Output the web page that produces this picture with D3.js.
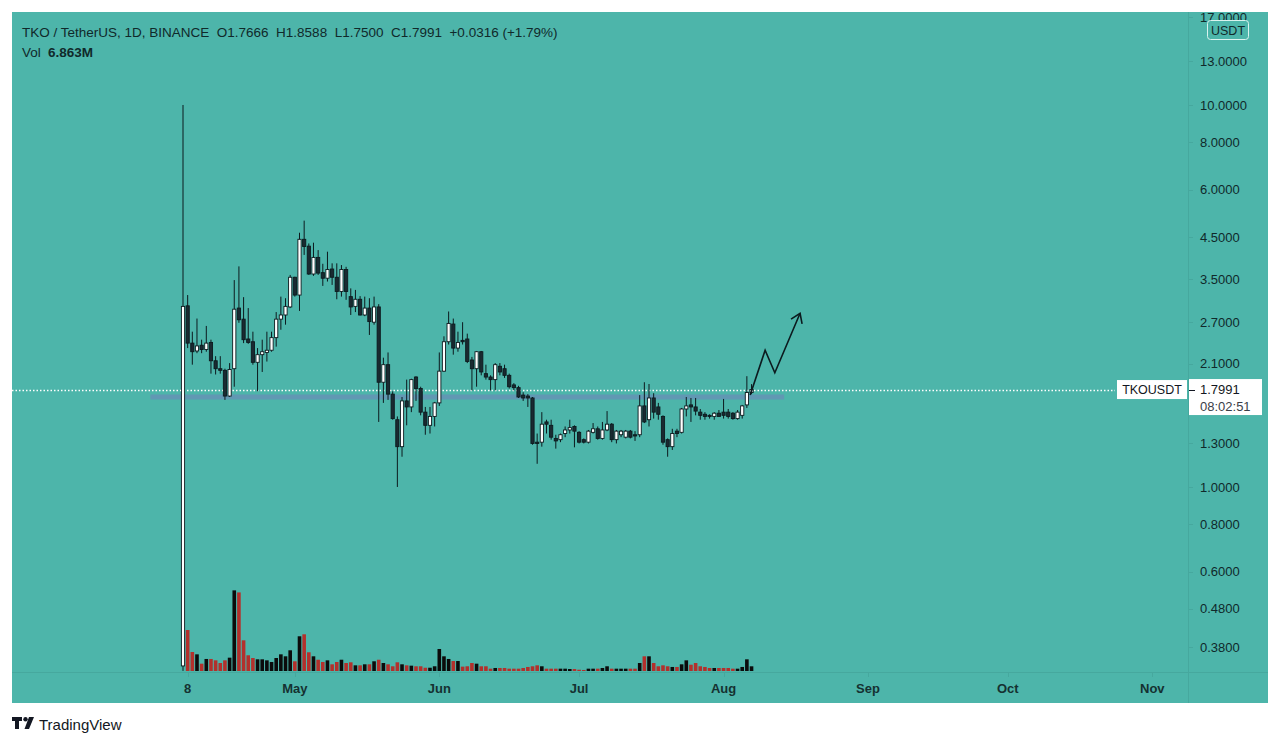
<!DOCTYPE html>
<html>
<head>
<meta charset="utf-8">
<script src="https://cdn.jsdelivr.net/npm/d3@7"></script>
<style>
  body { margin: 0; background: #fff; }
  svg { display: block; }
</style>
</head>
<body>
<script>
// daily candles TKO/USDT, first bar 2021-04-07
const startDay = "2021-04-07";
const opens = [0.34,2.98,2.38,2.27,2.35,2.29,2.39,2.14,2.04,2.02,1.73,2.04,2.94,2.75,2.44,2.40,2.12,2.22,2.25,2.28,
  2.46,2.75,2.82,2.96,3.54,3.18,4.45,4.27,3.61,3.99,3.64,3.52,3.72,3.54,3.25,3.71,3.15,2.97,3.10,2.82,
  2.94,2.70,2.96,1.88,2.09,1.75,1.50,1.275,1.68,1.62,1.94,1.81,1.57,1.45,1.53,1.66,2.01,2.40,2.67,2.31,
  2.42,2.44,2.15,2.04,2.26,1.98,1.94,1.91,2.07,2.04,1.96,1.85,1.82,1.74,1.73,1.71,1.31,1.31,1.48,1.45,
  1.34,1.33,1.38,1.41,1.44,1.39,1.33,1.31,1.39,1.42,1.34,1.41,1.46,1.33,1.37,1.35,1.40,1.37,1.37,1.63,
  1.50,1.71,1.62,1.53,1.33,1.275,1.40,1.39,1.60,1.64,1.62,1.57,1.55,1.54,1.53,1.56,1.57,1.57,1.56,1.51,
  1.54,1.64,1.7666];
const highs = [10.0,3.18,2.55,2.76,2.43,2.64,2.43,2.20,2.20,2.04,2.11,3.48,3.78,3.14,2.94,2.55,2.31,2.43,2.55,2.55,
  2.87,3.15,3.12,3.59,3.55,4.63,4.98,4.34,4.36,4.17,3.84,4.13,3.85,3.85,3.81,3.77,3.31,3.28,3.16,3.15,
  3.12,3.15,3.01,2.18,2.25,1.78,1.53,1.72,1.91,1.92,1.95,1.83,1.62,1.62,1.67,2.25,2.48,2.88,2.76,2.55,
  2.70,2.52,2.19,2.27,2.27,2.09,1.96,2.11,2.11,2.09,1.98,1.87,1.84,1.77,1.75,1.72,1.38,1.57,1.50,1.50,
  1.37,1.38,1.44,1.50,1.45,1.40,1.34,1.41,1.47,1.44,1.48,1.58,1.47,1.41,1.41,1.41,1.41,1.40,1.74,1.88,
  1.86,1.76,1.66,1.54,1.34,1.42,1.42,1.61,1.72,1.71,1.71,1.60,1.57,1.55,1.57,1.59,1.70,1.60,1.57,1.59,
  1.64,1.95,1.8588];
const lows = [0.33,2.31,2.09,2.24,2.24,2.26,1.98,1.97,1.98,1.69,1.72,1.83,2.69,2.38,2.37,2.09,1.78,2.00,2.13,2.26,
  2.33,2.58,2.66,2.94,3.15,2.89,4.05,3.59,3.57,3.59,3.36,3.45,3.38,3.10,3.15,3.09,2.82,2.87,2.81,2.80,
  2.50,2.66,1.48,1.66,1.69,1.50,1.00,1.20,1.45,1.57,1.68,1.54,1.37,1.38,1.44,1.63,2.00,2.36,2.22,2.26,
  2.36,2.11,1.79,1.83,1.96,1.91,1.79,1.79,1.96,1.93,1.81,1.79,1.71,1.68,1.62,1.29,1.15,1.275,1.38,1.33,
  1.26,1.31,1.35,1.38,1.27,1.30,1.30,1.30,1.38,1.33,1.33,1.40,1.31,1.30,1.35,1.34,1.34,1.32,1.35,1.47,
  1.44,1.51,1.50,1.29,1.20,1.25,1.35,1.38,1.53,1.48,1.54,1.50,1.50,1.51,1.50,1.53,1.51,1.51,1.50,1.50,
  1.51,1.61,1.75];
const closes = [2.97,2.38,2.26,2.34,2.29,2.38,2.14,2.04,2.02,1.73,2.03,2.92,2.74,2.43,2.39,2.12,2.22,2.26,2.28,2.46,
  2.75,2.82,2.97,3.54,3.18,4.45,4.26,3.61,3.99,3.63,3.52,3.71,3.54,3.25,3.71,3.25,2.96,3.10,2.82,2.94,
  2.71,2.96,1.88,2.09,1.75,1.51,1.275,1.68,1.62,1.91,1.81,1.57,1.45,1.53,1.66,2.01,2.40,2.68,2.31,2.39,
  2.40,2.13,2.04,2.26,2.00,1.94,1.91,2.09,2.00,1.96,1.83,1.82,1.72,1.71,1.71,1.30,1.30,1.46,1.46,1.35,
  1.32,1.37,1.41,1.43,1.40,1.31,1.31,1.40,1.42,1.34,1.41,1.46,1.33,1.40,1.40,1.40,1.35,1.36,1.63,1.48,
  1.71,1.57,1.55,1.31,1.275,1.38,1.38,1.60,1.63,1.62,1.58,1.54,1.53,1.53,1.56,1.53,1.54,1.53,1.51,1.57,
  1.63,1.7675,1.7991];
// volume in millions (first bar hidden behind the listing candle)
const volumes = [0,60,27.8,24.4,10.7,17.6,17.6,15.6,11.7,15.6,19.5,118,115,44.9,23,19,17.1,17.1,15.6,13.2,
  19,24.4,21.5,30.3,14.2,50.8,53.7,27.4,21.5,16.5,13.2,15.6,9.8,13.2,16.5,11.7,12.7,8.3,8.3,9.8,
  9.8,14.2,16.5,11.7,9.8,6.9,12.7,9.8,8.3,7.8,6.9,6.9,4.8,4.8,6.9,32.2,21.5,17.6,14.6,14.6,
  6.4,6.9,11.7,10.7,6.9,6.9,3.4,4.4,4.4,4.4,3.4,3.4,3.4,4.4,5.9,6.9,8.3,6.9,3.4,3.4,
  3.4,3.4,3.4,2.9,2.9,1.9,1.5,3.4,3.4,3.4,4.4,6.9,3.4,3.4,3.4,3.4,3.4,3.4,11.7,21.5,
  21.5,11.7,6.9,8.3,6.9,5.9,5.9,9.8,15.6,9.2,11.7,6.9,5.9,4.4,4.4,4.4,4.4,4.4,3.4,3.4,
  5.9,17.1,6.863];

const priceTicks = [17, 13, 10, 8, 6, 4.5, 3.5, 2.7, 2.1, 1.3, 1.0, 0.8, 0.6, 0.48, 0.38];
const timeTicks = ["2021-04-08","2021-05-01","2021-06-01","2021-07-01","2021-08-01","2021-09-01","2021-10-01","2021-11-01"];
const timeLabels = ["8","May","Jun","Jul","Aug","Sep","Oct","Nov"];

const supportLevel = 1.72;
const supportDates = ["2021-03-31","2021-08-14"];
const arrowDates = ["2021-08-06T17:00","2021-08-09T22:00","2021-08-12T00:00","2021-08-17T10:00"];
const arrowPrices = [1.74, 2.28, 1.99, 2.85];

const symbol = "TKO / TetherUS, 1D, BINANCE";
const countdown = "08:02:51";

const W = 1280, H = 745;
const paneL = 12, paneT = 12, paneR = 1188, paneB = 672, outerR = 1268, outerB = 703;
const FONT = "'Liberation Sans', Arial, sans-serif";
const TEXT = "#10292a";

const parse = s => new Date(s + (s.length === 10 ? "T00:00Z" : "Z"));
const start = parse(startDay);
const bars = opens.map((o, i) => ({
  date: d3.utcDay.offset(start, i), o, h: highs[i], l: lows[i], c: closes[i], v: volumes[i]
}));

const x = d3.scaleUtc().domain([start, parse("2021-11-01")]).range([183, 1152.3]);
const y = d3.scaleLog().domain([0.3, 20]).range([686.7, -10]);
const yv = d3.scaleLinear().domain([0, 120]).range([671, 589]);

const svg = d3.select("body").append("svg").attr("width", W).attr("height", H)
  .style("font-family", FONT);

svg.append("rect").attr("width", W).attr("height", H).attr("fill", "#fff");
svg.append("rect").attr("x", paneL).attr("y", paneT)
  .attr("width", outerR - paneL).attr("height", outerB - paneT).attr("fill", "#4db5aa");

const defs = svg.append("defs");
defs.append("clipPath").attr("id", "pane").append("rect")
  .attr("x", paneL).attr("y", paneT).attr("width", paneR - paneL).attr("height", paneB - paneT);
defs.append("clipPath").attr("id", "outer").append("rect")
  .attr("x", paneL).attr("y", paneT).attr("width", outerR - paneL).attr("height", outerB - paneT);
defs.append("marker").attr("id", "head").attr("markerUnits", "userSpaceOnUse")
  .attr("viewBox", "-12 -8 14 16").attr("refX", 0).attr("refY", 0)
  .attr("markerWidth", 14).attr("markerHeight", 16).attr("orient", "auto")
  .append("path").attr("d", "M-9,-6L0,0L-9,6").attr("fill", "none")
  .attr("stroke", "#0c1b1f").attr("stroke-width", 1.6);

// pane separators
svg.append("line").attr("x1", paneR + 0.5).attr("x2", paneR + 0.5).attr("y1", paneT).attr("y2", outerB)
  .attr("stroke", "#46a89e");
svg.append("line").attr("x1", paneL).attr("x2", outerR).attr("y1", paneB + 0.5).attr("y2", paneB + 0.5)
  .attr("stroke", "#46a89e");

const pane = svg.append("g").attr("clip-path", "url(#pane)");

// support band
pane.append("line")
  .attr("x1", x(parse(supportDates[0]))).attr("x2", x(parse(supportDates[1])))
  .attr("y1", y(supportLevel)).attr("y2", y(supportLevel))
  .attr("stroke", "#6198b3").attr("stroke-width", 5);

// volume
const bw = 3.6;
pane.append("g").selectAll("rect").data(bars.filter(d => d.v > 0)).join("rect")
  .attr("x", d => x(d.date) - bw / 2).attr("width", bw)
  .attr("y", d => yv(d.v)).attr("height", d => yv(0) - yv(d.v))
  .attr("fill", d => d.c >= d.o ? "#0b0b0b" : "#b3302c");

// last price dotted line
pane.append("line").attr("x1", paneL).attr("x2", 1115)
  .attr("y1", Math.round(y(closes[closes.length - 1])) + 0.5)
  .attr("y2", Math.round(y(closes[closes.length - 1])) + 0.5)
  .attr("stroke", "#fff").attr("stroke-width", 1.3).attr("stroke-dasharray", "1.5,2");

// candles
const candle = pane.append("g").selectAll("g").data(bars).join("g");
candle.append("line")
  .attr("x1", d => x(d.date)).attr("x2", d => x(d.date))
  .attr("y1", d => y(d.h)).attr("y2", d => y(d.l))
  .attr("stroke", "#0c1a1e").attr("stroke-width", 1);
const cw = 3.2;
candle.append("rect")
  .attr("x", d => x(d.date) - cw / 2).attr("width", cw)
  .attr("y", d => y(Math.max(d.o, d.c)))
  .attr("height", d => Math.max(1, Math.abs(y(d.o) - y(d.c))))
  .attr("fill", d => d.c >= d.o ? "#ffffff" : "#1a2a31")
  .attr("stroke", "#0c1a1e").attr("stroke-width", 0.9);

// drawn projection arrow
pane.append("path")
  .datum(arrowDates.map((d, i) => [x(parse(d)), y(arrowPrices[i])]))
  .attr("d", d3.line()).attr("fill", "none")
  .attr("stroke", "#0c1b1f").attr("stroke-width", 1.6)
  .attr("stroke-linejoin", "miter").attr("marker-end", "url(#head)");

// price axis
const axisG = svg.append("g").attr("clip-path", "url(#outer)");
axisG.selectAll("line.tick").data(priceTicks).join("line").attr("class", "tick")
  .attr("x1", paneR + 1).attr("x2", paneR + 5)
  .attr("y1", d => Math.round(y(d)) + 0.5).attr("y2", d => Math.round(y(d)) + 0.5)
  .attr("stroke", "#46a89e");
axisG.selectAll("text.ptick").data(priceTicks).join("text").attr("class", "ptick")
  .attr("x", 1200).attr("y", d => y(d) + 4.6)
  .attr("font-size", 13).attr("fill", TEXT)
  .text(d3.format(".4f"));

// USDT unit badge
svg.append("rect").attr("x", 1207.5).attr("y", 20.5).attr("width", 41).attr("height", 19).attr("rx", 3)
  .attr("fill", "#4db5aa").attr("stroke", "#d9f3ef");
svg.append("text").attr("x", 1228).attr("y", 35).attr("text-anchor", "middle")
  .attr("font-size", 12.5).attr("fill", TEXT).text("USDT");

// time axis
svg.append("g").selectAll("line").data(timeTicks).join("line")
  .attr("x1", d => Math.round(x(parse(d))) + 0.5).attr("x2", d => Math.round(x(parse(d))) + 0.5)
  .attr("y1", paneB + 1).attr("y2", paneB + 5).attr("stroke", "#46a89e");
svg.append("g").selectAll("text").data(timeTicks).join("text")
  .attr("x", d => x(parse(d))).attr("y", 693).attr("text-anchor", "middle")
  .attr("font-size", 13).attr("font-weight", "bold").attr("fill", "#153131")
  .text((d, i) => timeLabels[i]);

// last price labels
const last = bars[bars.length - 1], prev = bars[bars.length - 2];
const ly = y(last.c);
svg.append("rect").attr("x", 1117).attr("y", ly - 9.5).attr("width", 70).attr("height", 19).attr("fill", "#fff");
svg.append("text").attr("x", 1152).attr("y", ly + 4.5).attr("text-anchor", "middle")
  .attr("font-size", 12.5).attr("fill", "#131722").text("TKOUSDT");
svg.append("rect").attr("x", 1189).attr("y", ly - 10.5).attr("width", 73).attr("height", 36).attr("fill", "#fff");
svg.append("line").attr("x1", 1189).attr("x2", 1195).attr("y1", Math.round(ly) + 0.5).attr("y2", Math.round(ly) + 0.5)
  .attr("stroke", "#131722");
svg.append("text").attr("x", 1200).attr("y", ly + 4.6).attr("font-size", 13).attr("fill", "#131722")
  .text(d3.format(".4f")(last.c));
svg.append("text").attr("x", 1200).attr("y", ly + 21.5).attr("font-size", 13).attr("fill", "#3a3e48")
  .text(countdown);

// legend
const f4 = d3.format(".4f");
const chg = last.c - prev.c;
const legend = `${symbol}  O${f4(last.o)}  H${f4(last.h)}  L${f4(last.l)}  C${f4(last.c)}  ${chg >= 0 ? "+" : ""}${f4(chg)} (${chg >= 0 ? "+" : ""}${d3.format(".2f")(chg / prev.c * 100)}%)`;
svg.append("text").attr("x", 22).attr("y", 37).attr("font-size", 13.5).attr("fill", TEXT)
  .style("white-space", "pre").text(legend);
svg.append("text").attr("x", 22).attr("y", 57).attr("font-size", 13.5).attr("fill", TEXT)
  .text("Vol");
svg.append("text").attr("x", 48).attr("y", 57).attr("font-size", 13.5).attr("font-weight", "bold").attr("fill", TEXT)
  .text(d3.format(".3f")(last.v) + "M");

// TradingView footer
const logo = svg.append("g").attr("transform", "translate(12,717)").attr("fill", "#131722");
logo.append("path").attr("d", "M0,0H10V4H7V12H3V4H0Z");
logo.append("circle").attr("cx", 13.5).attr("cy", 2.2).attr("r", 2.2);
logo.append("path").attr("d", "M17,0H22L17,12H12.5Z");
svg.append("text").attr("x", 39).attr("y", 729.5).attr("font-size", 15).attr("fill", "#131722")
  .text("TradingView");
</script>
</body>
</html>
